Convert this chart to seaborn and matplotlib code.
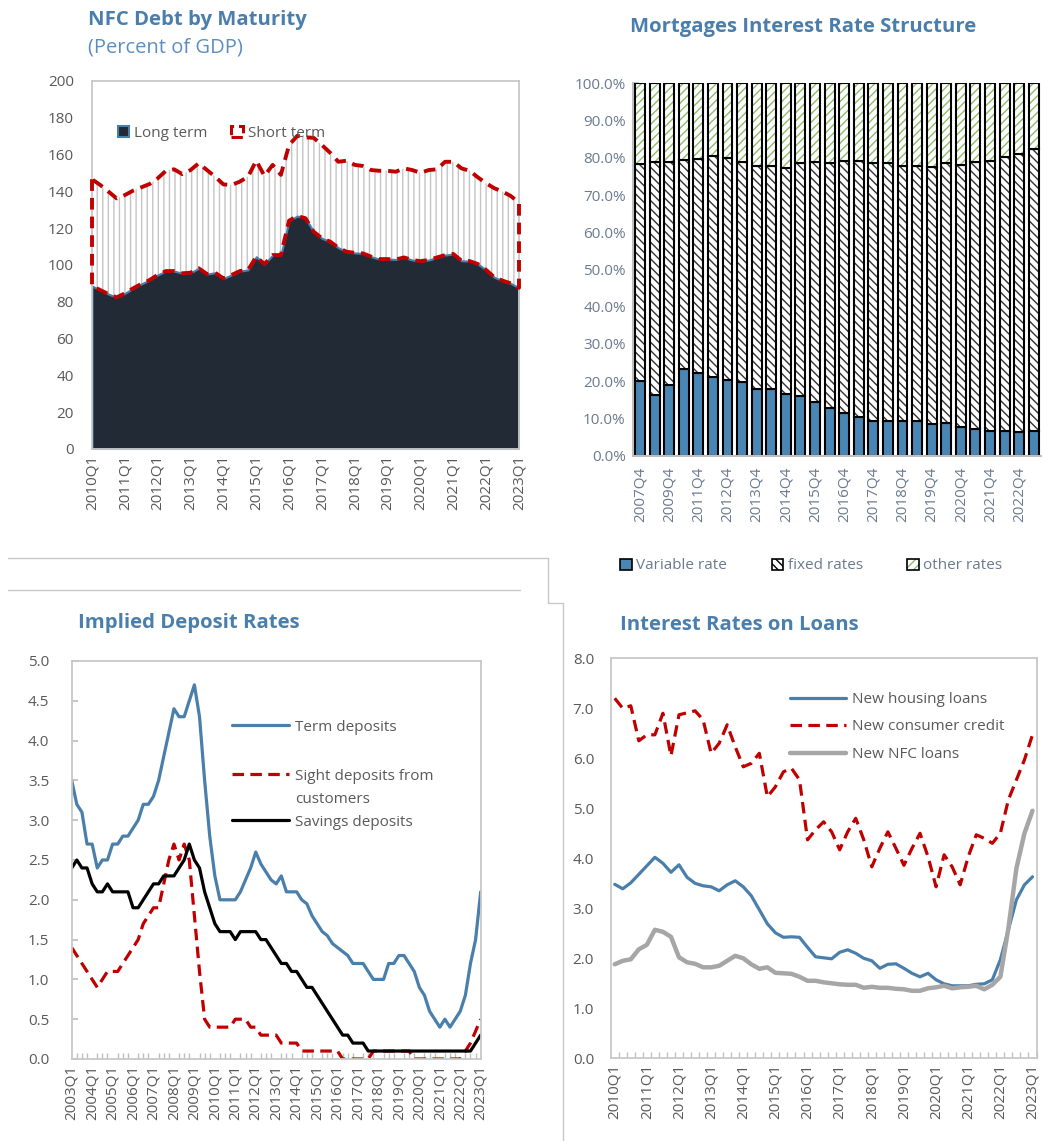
import numpy as np
import seaborn as sns
import matplotlib.pyplot as plt
from matplotlib.patches import Patch
from matplotlib.lines import Line2D
from matplotlib.ticker import FuncFormatter

# --- NFC debt by maturity, percent of GDP, 2010Q1-2023Q1
nfc_quarters = [f'{y}Q{q}' for y in range(2010, 2024) for q in range(1, 5)][:53]
long_term = [88.6, 86.4, 84.2, 82.4, 84.6, 87.3, 89.7, 91.8, 94.6, 96.7,
             96.7, 95.5, 95.8, 98.2, 95.1, 95.8, 92.7, 94.6, 96.7, 97.3,
             104.5, 100.5, 105.4, 105.4, 124.1, 126.6, 125.4, 118.1, 114.5, 112.7,
             109.4, 107.2, 106.6, 106.3, 104.5, 103.2, 103.2, 103.0, 104.1, 102.7,
             102.1, 102.7, 104.1, 105.4, 106.0, 102.3, 102.1, 100.5, 97.3, 93.3,
             91.5, 90.0, 87.6]
short_term = [58.0, 57.1, 55.7, 53.8, 53.4, 53.1, 52.5, 52.2, 52.5, 54.5,
              55.3, 53.9, 55.8, 57.1, 56.5, 52.2, 51.1, 48.9, 48.6, 50.7,
              52.2, 47.9, 49.0, 43.6, 41.1, 43.6, 44.0, 51.0, 50.7, 48.3,
              46.7, 49.5, 47.8, 47.5, 47.1, 48.0, 48.0, 47.7, 48.4, 48.9,
              48.0, 48.9, 47.9, 50.7, 50.1, 50.2, 49.1, 47.1, 47.1, 48.4,
              48.4, 47.5, 46.3]

# --- mortgages interest rate structure, percent of stock
mort_periods = (['2007Q4', '2008Q4', '2009Q4', '2010Q4', '2011Q4']
                + [f'{y}Q{q}' for y in range(2012, 2024) for q in (2, 4)][:23])
variable_rate = [20.1, 16.3, 19.0, 23.2, 22.1, 21.0, 20.2, 19.7, 17.9, 17.9,
                 16.6, 15.9, 14.3, 12.7, 11.4, 10.5, 9.3, 9.3, 9.3, 9.3,
                 8.5, 8.8, 7.6, 7.3, 6.7, 6.5, 6.3, 6.6]
fixed_rates = [58.2, 62.6, 59.9, 56.2, 57.6, 59.4, 59.8, 59.2, 59.9, 59.9,
               60.6, 62.6, 64.5, 65.8, 67.8, 68.7, 69.2, 69.2, 68.4, 68.4,
               69.0, 69.7, 70.4, 71.5, 72.5, 73.8, 74.7, 75.7]
other_rates = [21.7, 21.1, 21.1, 20.6, 20.3, 19.6, 20.0, 21.1, 22.2, 22.2,
               22.8, 21.5, 21.2, 21.5, 20.8, 20.8, 21.5, 21.5, 22.3, 22.3,
               22.5, 21.5, 22.0, 21.2, 20.8, 19.7, 19.0, 17.7]

# --- implied deposit rates, 2003Q1-2023Q1
dep_quarters = [f'{y}Q{q}' for y in range(2003, 2024) for q in range(1, 5)][:81]
term_deposits = [3.5, 3.2, 3.1, 2.7, 2.7, 2.4, 2.5, 2.5, 2.7, 2.7,
                 2.8, 2.8, 2.9, 3.0, 3.2, 3.2, 3.3, 3.5, 3.8, 4.1,
                 4.4, 4.3, 4.3, 4.5, 4.7, 4.3, 3.5, 2.8, 2.3, 2.0,
                 2.0, 2.0, 2.0, 2.1, 2.25, 2.4, 2.6, 2.45, 2.35, 2.25,
                 2.2, 2.3, 2.1, 2.1, 2.1, 2.0, 1.95, 1.8, 1.7, 1.6,
                 1.55, 1.45, 1.4, 1.35, 1.3, 1.2, 1.2, 1.2, 1.1, 1.0,
                 1.0, 1.0, 1.2, 1.2, 1.3, 1.3, 1.2, 1.1, 0.9, 0.8,
                 0.6, 0.5, 0.4, 0.5, 0.4, 0.5, 0.6, 0.8, 1.2, 1.5,
                 2.1]
sight_deposits = [1.4, 1.3, 1.2, 1.1, 1.0, 0.9, 1.0, 1.1, 1.1, 1.1,
                  1.2, 1.3, 1.4, 1.5, 1.7, 1.8, 1.9, 1.9, 2.2, 2.5,
                  2.7, 2.5, 2.7, 2.5, 1.8, 1.1, 0.5, 0.4, 0.4, 0.4,
                  0.4, 0.4, 0.5, 0.5, 0.5, 0.4, 0.4, 0.3, 0.3, 0.3,
                  0.3, 0.2, 0.2, 0.2, 0.2, 0.1, 0.1, 0.1, 0.1, 0.1,
                  0.1, 0.1, 0.1, 0.0, 0.0, 0.0, 0.0, 0.0, 0.0, 0.1,
                  0.1, 0.1, 0.1, 0.1, 0.1, 0.1, 0.1, 0.0, 0.0, 0.0,
                  0.0, 0.0, 0.0, 0.0, 0.0, 0.0, 0.0, 0.1, 0.2, 0.35,
                  0.5]
savings_deposits = [2.4, 2.5, 2.4, 2.4, 2.2, 2.1, 2.1, 2.2, 2.1, 2.1,
                    2.1, 2.1, 1.9, 1.9, 2.0, 2.1, 2.2, 2.2, 2.3, 2.3,
                    2.3, 2.4, 2.5, 2.7, 2.5, 2.4, 2.1, 1.9, 1.7, 1.6,
                    1.6, 1.6, 1.5, 1.6, 1.6, 1.6, 1.6, 1.5, 1.5, 1.4,
                    1.3, 1.2, 1.2, 1.1, 1.1, 1.0, 0.9, 0.9, 0.8, 0.7,
                    0.6, 0.5, 0.4, 0.3, 0.3, 0.2, 0.2, 0.2, 0.1, 0.1,
                    0.1, 0.1, 0.1, 0.1, 0.1, 0.1, 0.1, 0.1, 0.1, 0.1,
                    0.1, 0.1, 0.1, 0.1, 0.1, 0.1, 0.1, 0.1, 0.1, 0.2,
                    0.3]

# --- interest rates on new loans, 2010Q1-2023Q1
loan_quarters = nfc_quarters
housing_loans = [3.48, 3.39, 3.51, 3.68, 3.85, 4.02, 3.9, 3.72, 3.87, 3.62,
                 3.5, 3.45, 3.43, 3.35, 3.47, 3.55, 3.43, 3.25, 2.97, 2.69,
                 2.51, 2.42, 2.43, 2.42, 2.22, 2.03, 2.01, 1.99, 2.12, 2.17,
                 2.1, 2.0, 1.95, 1.8, 1.88, 1.89, 1.8, 1.7, 1.63, 1.7,
                 1.57, 1.49, 1.45, 1.45, 1.45, 1.48, 1.49, 1.57, 1.97, 2.57,
                 3.17, 3.47, 3.63]
consumer_credit = [7.2, 7.0, 7.05, 6.35, 6.47, 6.47, 6.9, 6.05, 6.87, 6.91,
                   6.95, 6.77, 6.1, 6.3, 6.67, 6.23, 5.83, 5.9, 6.1, 5.23,
                   5.43, 5.73, 5.8, 5.57, 4.37, 4.57, 4.73, 4.53, 4.17, 4.53,
                   4.8, 4.37, 3.83, 4.2, 4.53, 4.2, 3.86, 4.2, 4.5, 4.03,
                   3.43, 4.07, 3.83, 3.47, 4.03, 4.47, 4.4, 4.3, 4.5, 5.17,
                   5.57, 5.97, 6.47]
nfc_loans = [1.88, 1.95, 1.98, 2.18, 2.27, 2.57, 2.53, 2.43, 2.02, 1.92,
             1.89, 1.82, 1.82, 1.85, 1.95, 2.05, 2.0, 1.88, 1.79, 1.82,
             1.71, 1.7, 1.69, 1.63, 1.55, 1.55, 1.52, 1.5, 1.48, 1.47,
             1.47, 1.41, 1.43, 1.41, 1.41, 1.39, 1.38, 1.35, 1.35, 1.4,
             1.42, 1.45, 1.4, 1.42, 1.43, 1.45, 1.38, 1.47, 1.63, 2.6,
             3.8, 4.5, 4.95]

sns.set_theme(style='white')
plt.rcParams['font.family'] = ['Open Sans', 'DejaVu Sans']
plt.rcParams['hatch.linewidth'] = 1.0

TITLE = '#4a7ead'
TXT = '#595959'
TXT2 = '#6b7a8f'
FRAME = '#c8c8c8'
BLUE = '#4a7fab'
RED = '#c00000'
NAVY = '#222a35'
TSIZE = 14.6

W, H = 1060, 1141
fig = plt.figure(figsize=(W / 100, H / 100), dpi=100)


def px_axes(l, t, r, b):
    return fig.add_axes([l / W, 1 - b / H, (r - l) / W, (b - t) / H])


def q1_ticks(ax, labels, minor_shift=0.0):
    pos = [i for i, q in enumerate(labels) if q.endswith('Q1')]
    ax.set_xticks(pos)
    ax.set_xticklabels([labels[i] for i in pos], rotation=90, fontsize=11, color=TXT)
    ax.set_xticks(np.arange(len(labels)) + minor_shift, minor=True)
    ax.tick_params(axis='x', which='major', length=0, pad=4)
    ax.tick_params(axis='x', which='minor', direction='in', length=4,
                   width=1, color='#bfbfbf', bottom=True)


def box(ax):
    for s in ax.spines.values():
        s.set_visible(True)
        s.set_color(FRAME)
        s.set_linewidth(1.3)


# ---------------- panel 1: NFC debt by maturity
ax1 = px_axes(92, 81, 519, 449)
x1 = np.arange(len(nfc_quarters))
lt = np.array(long_term)
tot = lt + np.array(short_term)
ax1.fill_between(x1, lt, tot, facecolor='white', edgecolor='#c4c4c4',
                 hatch='|||', linewidth=0, zorder=1)
ax1.fill_between(x1, 0, lt, facecolor=NAVY, edgecolor=BLUE, linewidth=1.5, zorder=2)
ax1.fill_between(x1, lt, tot, facecolor='none', edgecolor=RED, linewidth=2.8,
                 linestyle=(0, (3, 1.8)), zorder=3, clip_on=False)
ax1.set_xlim(0, len(x1) - 1)
ax1.set_ylim(0, 200)
ax1.set_yticks(range(0, 201, 20))
ax1.tick_params(axis='y', labelsize=11, labelcolor=TXT, pad=13, length=0)
q1_ticks(ax1, nfc_quarters)
box(ax1)
h1 = [Patch(facecolor=NAVY, edgecolor=BLUE, linewidth=1.5),
      Patch(facecolor='white', edgecolor=RED, linewidth=2.2, linestyle='--')]
ax1.legend(h1, ['Long term', 'Short term'], ncol=2, frameon=False, loc='center left',
           bbox_to_anchor=(0.06, 0.858), borderpad=0, borderaxespad=0,
           handlelength=0.75, handleheight=0.75, handletextpad=0.3,
           columnspacing=1.6, fontsize=11, labelcolor=TXT)
fig.text(88 / W, 1 - 20 / H, 'NFC Debt by Maturity', ha='left', va='center',
         fontsize=TSIZE, fontweight='bold', color=TITLE)
fig.text(88 / W, 1 - 48 / H, '(Percent of GDP)', ha='left', va='center',
         fontsize=14.5, color='#5b8ec0')

# ---------------- panel 2: mortgages interest rate structure
ax2 = px_axes(632.7, 83.3, 1041, 455.7)
x2 = np.arange(len(mort_periods))
v = np.array(variable_rate)
f = np.array(fixed_rates)
o = np.array(other_rates)
bw = 0.68
GREEN = '#8dbd6a'
VAR = '#4a86b4'
ax2.bar(x2, v, bw, color=VAR, edgecolor='black', linewidth=1.5)
ax2.bar(x2, f, bw, bottom=v, color='white', edgecolor='#333333', hatch='\\\\\\\\', linewidth=0)
ax2.bar(x2, f, bw, bottom=v, fill=False, edgecolor='black', linewidth=1.5)
ax2.bar(x2, o, bw, bottom=v + f, color='white', edgecolor=GREEN, hatch='////', linewidth=0)
ax2.bar(x2, o, bw, bottom=v + f, fill=False, edgecolor='black', linewidth=1.5)
ax2.set_xlim(-0.5, len(x2) - 0.5)
ax2.set_ylim(0, 100)
ax2.set_yticks(range(0, 101, 10))
ax2.yaxis.set_major_formatter(FuncFormatter(lambda val, _: f'{val:.1f}%'))
ax2.set_xticks(x2[::2])
ax2.set_xticklabels(mort_periods[::2], rotation=90, fontsize=11, color=TXT2)
ax2.tick_params(axis='x', length=0, pad=8)
ax2.tick_params(axis='y', labelsize=11, labelcolor=TXT2, direction='in',
                length=4, color='#bfbfbf', left=True, pad=5)
for s in ['top', 'right']:
    ax2.spines[s].set_visible(False)
for s in ['left', 'bottom']:
    ax2.spines[s].set_color('#bfbfbf')
    ax2.spines[s].set_linewidth(1.5)
h2 = [Patch(facecolor=VAR, edgecolor='black', linewidth=1.2),
      Patch(facecolor='white', edgecolor='black', hatch='\\\\\\\\', linewidth=1.2),
      (Patch(facecolor='white', edgecolor=GREEN, hatch='////', linewidth=0),
       Patch(fill=False, edgecolor='black', linewidth=1.2))]
ax2.legend(h2, ['Variable rate', 'fixed rates', 'other rates'], ncol=3, frameon=False,
           loc='center left', bbox_to_anchor=(-0.03, -0.296), borderpad=0,
           borderaxespad=0, handlelength=0.75, handleheight=0.75, handletextpad=0.3,
           columnspacing=2.9, fontsize=11, labelcolor=TXT2)
fig.text(803 / W, 1 - 27 / H, 'Mortgages Interest Rate Structure', ha='center',
         va='center', fontsize=TSIZE, fontweight='bold', color=TITLE)

# ---------------- panel 3: implied deposit rates
ax3 = px_axes(71.7, 661, 480.7, 1059)
x3 = np.arange(len(dep_quarters))
sns.lineplot(x=x3, y=term_deposits, ax=ax3, color=BLUE, linewidth=2.3)
sns.lineplot(x=x3, y=sight_deposits, ax=ax3, color=RED, linewidth=2.3,
             linestyle=(0, (3.6, 2)))
sns.lineplot(x=x3, y=savings_deposits, ax=ax3, color='black', linewidth=2.3)
ax3.set_xlim(0, len(x3) - 1)
ax3.set_ylim(0, 5)
ax3.set_yticks(np.arange(0, 5.01, 0.5))
ax3.yaxis.set_major_formatter(FuncFormatter(lambda val, _: f'{val:.1f}'))
ax3.tick_params(axis='y', labelsize=11, labelcolor=TXT, direction='in', length=4,
                color='#bfbfbf', left=True, pad=16)
q1_ticks(ax3, dep_quarters)
box(ax3)
lines3 = ax3.get_lines()
legA = ax3.legend([lines3[0]], ['Term deposits'], frameon=False, loc='center left',
                  bbox_to_anchor=(0.392, 0.834), borderpad=0, borderaxespad=0,
                  handlelength=3.7, handletextpad=0.4, fontsize=11, labelcolor=TXT)
ax3.add_artist(legA)
legB = ax3.legend(lines3[1:3], ['Sight deposits from\ncustomers', 'Savings deposits'],
                  frameon=False, loc='upper left', bbox_to_anchor=(0.392, 0.728),
                  borderpad=0, borderaxespad=0, handlelength=3.7, handletextpad=0.4,
                  labelspacing=0.5, fontsize=11, labelcolor=TXT)
for t in legB.get_texts():
    t.set_linespacing(1.7)
sight_handle = legB.get_lines()[0]
sight_handle.set_ydata(np.asarray(sight_handle.get_ydata()) + 10.5)
fig.text(78 / W, 1 - 623 / H, 'Implied Deposit Rates', ha='left', va='center',
         fontsize=TSIZE, fontweight='bold', color=TITLE)

# ---------------- panel 4: interest rates on loans
ax4 = px_axes(610.7, 658.3, 1036.5, 1058.3)
x4 = np.arange(len(loan_quarters))
sns.lineplot(x=x4, y=housing_loans, ax=ax4, color=BLUE, linewidth=2.3)
sns.lineplot(x=x4, y=consumer_credit, ax=ax4, color=RED, linewidth=2.3,
             linestyle=(0, (3.6, 2)))
sns.lineplot(x=x4, y=nfc_loans, ax=ax4, color='#a6a6a6', linewidth=3.2)
ax4.set_xlim(-0.5, len(x4) - 0.5)
ax4.set_ylim(0, 8)
ax4.set_yticks(range(0, 9))
ax4.yaxis.set_major_formatter(FuncFormatter(lambda val, _: f'{val:.1f}'))
ax4.tick_params(axis='y', labelsize=11, labelcolor=TXT, length=0, pad=12)
q1_ticks(ax4, loan_quarters, minor_shift=0.5)
box(ax4)
ax4.legend(ax4.get_lines(), ['New housing loans', 'New consumer credit', 'New NFC loans'],
           frameon=False, loc='upper left', bbox_to_anchor=(0.421, 0.916),
           borderpad=0, borderaxespad=0, handlelength=3.7, handletextpad=0.35,
           labelspacing=0.82, fontsize=11, labelcolor=TXT)
fig.text(620 / W, 1 - 625 / H, 'Interest Rates on Loans', ha='left', va='center',
         fontsize=TSIZE, fontweight='bold', color=TITLE)

# ---------------- panel separators
for xs, ys in [([8, 548], [558, 558]), ([548, 548], [558, 603]),
               ([548, 563], [603, 603]), ([563, 563], [603, 1141]),
               ([8, 520], [590, 590])]:
    fig.add_artist(Line2D([a / W for a in xs], [1 - b / H for b in ys],
                          transform=fig.transFigure, color=FRAME, linewidth=1))

fig.savefig('out.png', dpi=100)
